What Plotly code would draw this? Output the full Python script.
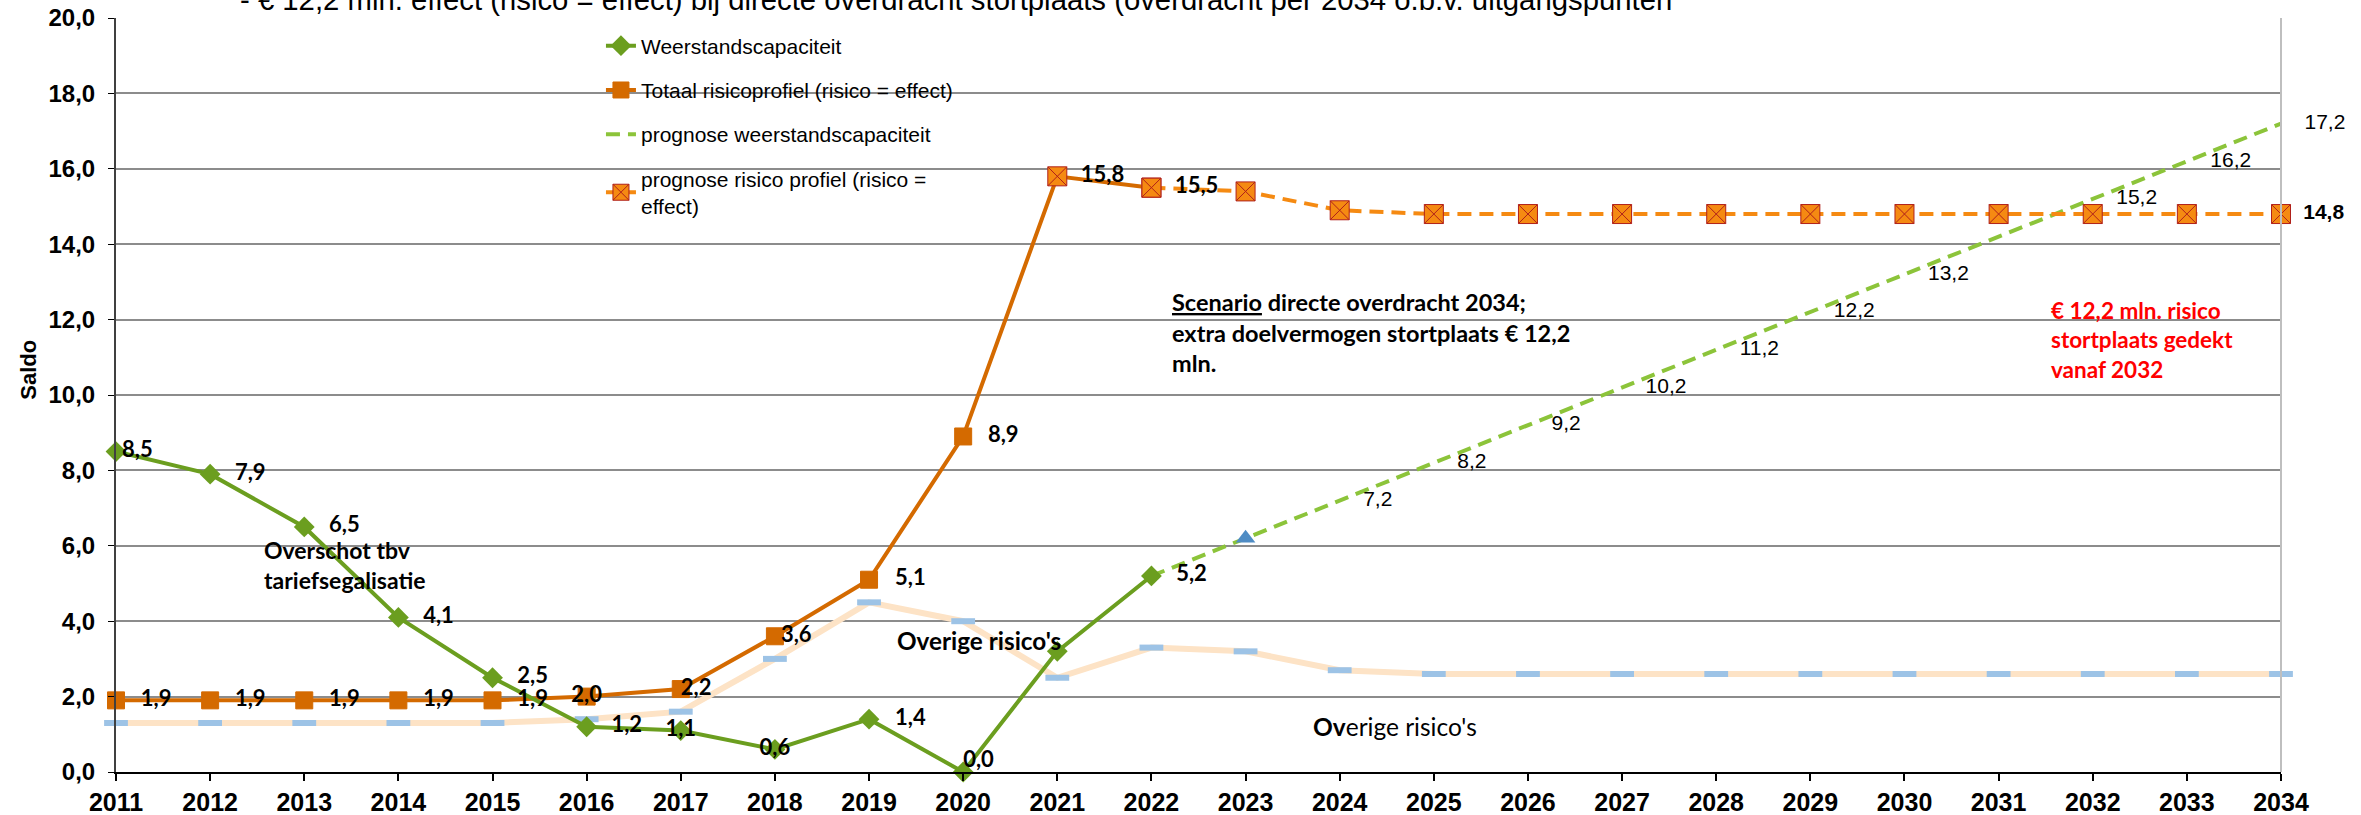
import plotly.graph_objects as go

# data ---------------------------------------------------------------
years = list(range(2011, 2035))

hist_years = list(range(2011, 2023))
weerstand = [8.5, 7.9, 6.5, 4.1, 2.5, 1.2, 1.1, 0.6, 1.4, 0.0, 3.2, 5.2]
totaal = [1.9, 1.9, 1.9, 1.9, 1.9, 2.0, 2.2, 3.6, 5.1, 8.9, 15.8, 15.5]

prog_weer_years = list(range(2022, 2035))
prog_weer = [5.2, 6.2, 7.2, 8.2, 9.2, 10.2, 11.2, 12.2, 13.2, 14.2, 15.2, 16.2, 17.2]

prog_risico_years = list(range(2022, 2035))
prog_risico = [15.5, 15.4, 14.9, 14.8, 14.8, 14.8, 14.8, 14.8, 14.8, 14.8, 14.8, 14.8, 14.8]

overig = [1.3, 1.3, 1.3, 1.3, 1.3, 1.4, 1.6, 3.0, 4.5, 4.0, 2.5, 3.3,
          3.2, 2.7, 2.6, 2.6, 2.6, 2.6, 2.6, 2.6, 2.6, 2.6, 2.6, 2.6]

marker_years = [2023]
marker_vals = [6.2]

# labels that are not shown in the original
weerstand_hidden = [2021]
prog_weer_hidden = [2022, 2023, 2031]
prog_risico_shown = [2034]


def fmt(v):
    return f"{v:.1f}".replace(".", ",")


GREEN = "#6B9E1F"
GREEN_LIGHT = "#8CC43A"
ORANGE = "#D46A00"
ORANGE_LIGHT = "#F58A12"
XRED = "#B0201A"
BLUE_DASH = "#9DC3E6"
LABEL_FONT = "Lato, Liberation Sans, Arial"
AXIS_FONT = "Liberation Sans, Arial"

# label placement (position + invisible marker size that sets the gap)
weer_pos = ["middle right"] * 6 + ["middle center", "middle center", "middle right",
                                    "top right", "middle right", "middle right"]
weer_gap = [8, 38, 38, 38, 38, 38, 0, 0, 40, 0, 40, 38]
tot_pos = ["middle right"] * 5 + ["middle center"] + ["middle right"] * 6
tot_gap = [38] * 5 + [0, 0, 8, 40, 38, 36, 36]

weer_text = ["" if y in weerstand_hidden else fmt(v) for y, v in zip(hist_years, weerstand)]
pw_text = ["" if y in prog_weer_hidden else fmt(v) for y, v in zip(prog_weer_years, prog_weer)]
pr_text = [fmt(v) if y in prog_risico_shown else "" for y, v in zip(prog_risico_years, prog_risico)]

fig = go.Figure()


def add_labels(x, y, text, pos, gap, font):
    fig.add_trace(go.Scatter(
        x=x, y=y, text=text, mode="markers+text", showlegend=False, hoverinfo="skip",
        textposition=pos, marker=dict(size=gap, opacity=0), textfont=font, cliponaxis=False,
    ))


# overige risico's
fig.add_trace(go.Scatter(
    x=years, y=overig, mode="lines+markers", showlegend=False,
    line=dict(color="#FDE3C6", width=6),
    marker=dict(symbol="line-ew-open", size=17, color=BLUE_DASH,
                line=dict(color=BLUE_DASH, width=6)),
    cliponaxis=False,
))

# prognose weerstandscapaciteit
fig.add_trace(go.Scatter(
    x=prog_weer_years, y=prog_weer, mode="lines", name="prognose weerstandscapaciteit",
    line=dict(color=GREEN_LIGHT, width=4, dash="14px,8px"),
    legendrank=3, legendgroup="c", cliponaxis=False,
))

fig.add_trace(go.Scatter(
    x=marker_years, y=marker_vals, mode="markers", showlegend=False,
    marker=dict(symbol="triangle-up", size=17, color="#4F8CC4"),
    cliponaxis=False,
))

# prognose risico profiel
fig.add_trace(go.Scatter(
    x=prog_risico_years, y=prog_risico, mode="lines+markers",
    name="prognose risico profiel (risico =<br>effect)",
    line=dict(color=ORANGE_LIGHT, width=4, dash="14px,8px"),
    marker=dict(symbol="square-x", size=19, color=ORANGE_LIGHT, opacity=1,
                line=dict(color=XRED, width=1)),
    legendrank=4, legendgroup="d", cliponaxis=False,
))

# totaal risicoprofiel
fig.add_trace(go.Scatter(
    x=hist_years, y=totaal, mode="lines+markers", name="Totaal risicoprofiel (risico = effect)",
    line=dict(color=ORANGE, width=4),
    marker=dict(symbol=["square"] * 10 + ["square-x"] * 2, size=[17] * 10 + [19] * 2,
                color=[ORANGE] * 10 + [ORANGE_LIGHT] * 2, opacity=1,
                line=dict(color=[ORANGE] * 10 + [XRED] * 2, width=1)),
    legendrank=2, legendgroup="b", cliponaxis=False,
))

# weerstandscapaciteit
fig.add_trace(go.Scatter(
    x=hist_years, y=weerstand, mode="lines+markers", name="Weerstandscapaciteit",
    line=dict(color=GREEN, width=4),
    marker=dict(symbol="diamond", size=16, color=GREEN),
    legendrank=1, legendgroup="a", cliponaxis=False,
))

# data labels
bold_lbl = dict(family=LABEL_FONT, size=22, color="black", weight="bold")
add_labels(prog_weer_years, prog_weer, pw_text, "middle right", 36,
           dict(family=AXIS_FONT, size=21, color="black"))
add_labels(prog_risico_years, prog_risico, pr_text, "middle right", 34,
           dict(family=AXIS_FONT, size=21, color="black", weight="bold"))
add_labels(hist_years, totaal, [fmt(v) for v in totaal], tot_pos, tot_gap, bold_lbl)
add_labels(hist_years, weerstand, weer_text, weer_pos, weer_gap, bold_lbl)

annots = [
    dict(x=0.0564, y=1, xref="paper", yref="paper", xanchor="left", yanchor="bottom",
         text="- € 12,2 mln. effect (risico = effect) bij directe overdracht stortplaats "
              "(overdracht per 2034 o.b.v. uitgangspunten",
         font=dict(family=AXIS_FONT, size=29.3, color="black")),
    dict(x=-0.0405, y=0.534, xref="paper", yref="paper", xanchor="center", textangle=-90,
         text="Saldo", font=dict(family=AXIS_FONT, size=22, color="black", weight="bold")),
    dict(x=2012.55, y=5.5, text="Overschot tbv<br>tariefsegalisatie",
         font=dict(family=LABEL_FONT, size=23, color="black", weight="bold")),
    dict(x=2019.28, y=3.5, text="Overige risico's",
         font=dict(family=LABEL_FONT, size=24.3, color="black", weight="bold")),
    dict(x=2023.7, y=1.22, text="<b>Ov</b>erige risico's",
         font=dict(family=LABEL_FONT, size=24.5, color="black")),
    dict(x=2022.2, y=11.67,
         text="<u>Scenario</u> directe overdracht 2034;<br>extra doelvermogen stortplaats € 12,2<br>mln.",
         font=dict(family=LABEL_FONT, size=23.5, color="black", weight="bold")),
    dict(x=2031.53, y=11.45, text="€ 12,2 mln. risico<br>stortplaats gedekt<br>vanaf 2032",
         font=dict(family=LABEL_FONT, size=22.5, color="#FF0000", weight="bold")),
]
for a in annots:
    a.setdefault("xref", "x")
    a.setdefault("yref", "y")
    a.setdefault("xanchor", "left")
    a.setdefault("yanchor", "middle")
    a["showarrow"] = False
    a["align"] = "left"

fig.update_layout(
    width=2361, height=815,
    margin=dict(l=116, r=80, t=18, b=43, autoexpand=False),
    plot_bgcolor="white", paper_bgcolor="white",
    separators=",.",
    annotations=annots,
    legend=dict(x=0.224, y=0.99, xanchor="left", yanchor="top",
                bgcolor="rgba(0,0,0,0)", tracegroupgap=14,
                font=dict(family=AXIS_FONT, size=21, color="black")),
    shapes=[dict(type="line", xref="paper", yref="paper", x0=1, x1=1, y0=0, y1=1,
                 line=dict(color="#BFBFBF", width=2))],
)

fig.update_xaxes(
    range=[2011, 2034], dtick=1, tick0=2011, showgrid=False, automargin=False,
    showline=True, linecolor="black", linewidth=2,
    ticks="outside", ticklen=7, tickcolor="black", tickwidth=1.5,
    tickfont=dict(family=AXIS_FONT, size=25, color="black", weight="bold"),
)
fig.update_yaxes(
    range=[0, 20], dtick=2, tickformat=".1f", automargin=False,
    showgrid=True, gridcolor="#8C8C8C", gridwidth=1.5, zeroline=False,
    showline=True, linecolor="#404040", linewidth=2,
    ticks="outside", ticklen=6, tickcolor="black", ticklabelstandoff=8,
    tickfont=dict(family=AXIS_FONT, size=24, color="black", weight="bold"),
)

# page body has a default margin; drop it so the figure fills the window exactly
fig.write_html("out.html", config={"displayModeBar": False},
               post_script="document.body.style.margin='0px';")
